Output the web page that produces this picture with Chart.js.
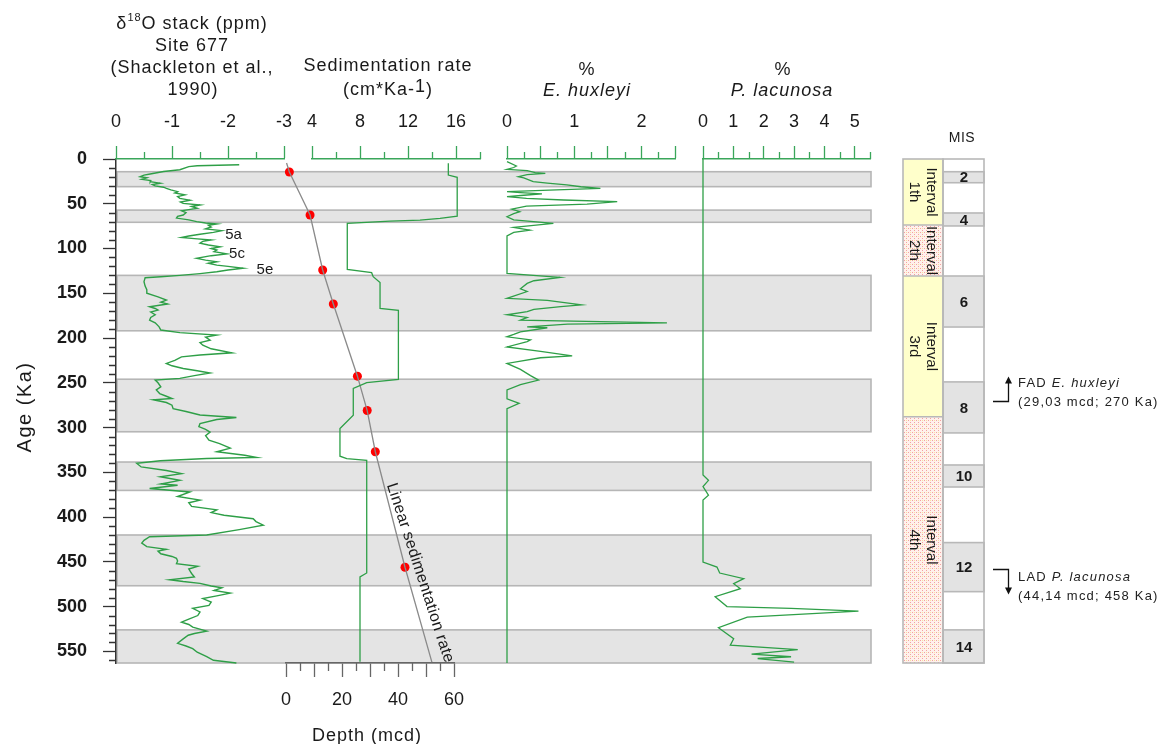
<!DOCTYPE html>
<html>
<head>
<meta charset="utf-8">
<script src="https://cdn.jsdelivr.net/npm/chart.js@4.4.1/dist/chart.umd.min.js"></script>
<style>
  html, body { margin: 0; padding: 0; background: #fff; }
  #wrap { position: relative; width: 1163px; height: 744px; }
  canvas { display: block; }
</style>
</head>
<body>
<div id="wrap"><canvas id="c" width="1163" height="744"></canvas></div>
<script>
// ---------------- data ----------------
// delta-18O stack, Site 677: [age Ka, value]
const d18oRecord = [
  [6.5,-2.2],[7.5,-1.45],[8.5,-1.3],[12,-1.14],[14,-0.85],[16.8,-0.61],[18,-0.5],[19.8,-0.43],[21,-0.55],
  [22.7,-0.46],[24,-0.62],[25.3,-0.61],[27,-0.79],[28.5,-0.65],[30,-0.7],[31.5,-0.85],[32.8,-0.9],[34.5,-0.98],
  [36.5,-1.1],[38,-1.05],[40,-1.23],[42,-1.1],[44,-1.14],[46,-1.32],[48,-1.15],[49.6,-1.2],[51.4,-1.5],[53,-1.35],
  [55,-1.45],[56.5,-1.3],[57.8,-1.17],[60,-1.25],[62.6,-1.2],[64,-1.1],[66,-1.08],[68,-1.3],[70,-1.44],[71.5,-1.6],
  [72.6,-1.8],[74,-1.65],[76,-1.7],[78,-1.6],[80,-1.89],[82,-1.74],[84,-1.5],[86,-1.3],[87.6,-1.17],[89,-1.4],
  [90.5,-1.7],[92,-1.55],[94,-1.5],[96,-1.65],[98,-1.86],[100,-1.7],[101.7,-1.8],[103.5,-1.75],[106,-1.98],
  [108,-1.7],[111,-1.44],[113,-1.6],[114.8,-1.8],[116.5,-1.65],[118.5,-1.8],[120,-2.0],[122,-2.27],[124,-2.0],
  [126,-1.8],[128,-1.5],[130,-1.14],[131.5,-0.8],[132.6,-0.52],[137,-0.5],[142,-0.52],[146,-0.55],[150,-0.55],
  [154,-0.75],[157.6,-0.9],[160,-0.8],[162,-0.92],[165,-0.6],[167,-0.7],[168.8,-0.75],[171,-0.62],[174,-0.7],
  [177,-0.62],[180,-0.6],[183,-0.7],[187.5,-0.77],[191,-0.8],[194,-1.14],[196.8,-1.8],[199,-1.6],[202.4,-1.68],
  [205,-1.5],[208,-1.55],[212,-1.7],[216.5,-2.07],[219,-1.5],[221,-1.17],[225,-1.05],[228.4,-0.9],[231,-1.0],
  [234,-1.2],[236.5,-1.45],[239,-1.68],[242,-1.4],[245,-1.14],[247,-0.7],[250,-0.75],[254.6,-0.8],[258,-0.72],
  [262,-0.78],[265,-0.9],[267.6,-1.0],[269,-0.67],[272,-0.9],[275,-1.0],[279,-1.02],[282,-1.25],[286,-1.5],
  [288.8,-2.15],[291,-1.8],[295.5,-1.5],[299,-1.48],[302,-1.6],[305,-1.68],[309,-1.6],[314,-1.66],[318,-1.85],
  [323,-2.04],[327,-1.8],[331,-2.3],[333.5,-2.51],[334.6,-1.62],[337,-0.79],[340,-0.37],[344,-0.45],[348,-0.9],
  [351.5,-1.17],[355,-0.79],[359,-1.14],[363,-0.8],[364.5,-1.1],[368,-0.6],[372,-1.32],[377,-1.1],[381,-1.5],
  [384,-1.3],[388,-1.35],[392,-1.8],[395,-1.7],[398,-1.93],[401.8,-2.45],[405,-2.5],[409,-2.63],[414,-2.2],
  [420,-1.62],[422,-0.6],[426,-0.5],[429,-0.46],[433,-0.55],[436,-0.9],[438,-0.75],[441,-0.8],[444,-1.0],
  [446,-1.08],[449,-1.1],[452,-1.08],[455,-1.46],[458,-1.3],[463,-1.35],[467,-1.4],[470,-0.96],[472,-1.2],
  [474,-1.5],[477,-1.7],[479,-1.89],[482,-1.75],[485,-2.04],[488,-1.8],[491,-1.55],[495,-1.7],[498.6,-1.66],
  [502,-1.37],[506,-1.5],[510,-1.46],[514,-1.3],[517.4,-1.17],[520,-1.3],[523,-1.37],[527.4,-1.62],[530,-1.4],
  [532,-1.29],[536,-1.2],[541,-1.1],[544,-1.25],[547,-1.37],[551,-1.45],[556,-1.62],[560,-1.74],[563,-2.15]
];

// sedimentation rate (cm/Ka): [age Ka, rate]
const sedRateRecord = [
  [4.8,15.36],[17.9,15.36],[20.5,16.1],[63.8,16.1],[66.3,14.67],[68.2,13],[69.3,10.5],[71.9,6.94],
  [123.3,6.94],[127,8.97],[131.5,9.1],[137.9,9.67],[167,9.67],[169,11.2],[246.2,11.2],[249.9,8.56],
  [256.3,7.44],[286.2,7.44],[301,6.33],[332,6.33],[334.6,6.9],[336.5,8.56],[462.4,8.56],[466.9,8.0],[561.6,8.0]
];

// E. huxleyi (%): [age Ka, value]
const ehuxRecord = [
  [3,0],[7.8,0.14],[9.5,0.1],[11.5,0],[13,0.3],[15.3,0.42],[16,0.57],[17.5,0.3],[19.8,0.17],[21,0.25],
  [25.3,0.39],[27,0.6],[29,0.89],[31,1.1],[32.8,1.39],[34.6,0.74],[36.5,0],[37.5,0.2],[39,0.52],[40.5,0.25],
  [42,0],[44,0.29],[45.8,0.84],[47.7,1.64],[50.3,1.19],[52.6,0.29],[56,0.07],[58.9,0.19],[61,0.1],[64.5,0],
  [68,0.1],[72,0.69],[76.4,0.1],[79.4,0.34],[82,0.1],[86,0],[127.8,0],[132.3,0.79],[136,0.4],[139,0.3],
  [145,0.2],[148,0.3],[155.7,0],[158,0.6],[163,1.11],[165,0.8],[168,0.4],[170.6,0.3],[174,0],[177,0.3],
  [180,0.2],[183,2.38],[184.5,0.9],[187.5,0.3],[188.5,0.6],[193,0.2],[196,0.1],[198.6,0],[202,0.35],[204,0.3],
  [210,0],[215,0.5],[220,0.97],[222,0.5],[228.4,0],[235,0.2],[242,0.35],[247,0.47],[252,0.2],[258,0],
  [268,0],[273,0.18],[279,0],[563,0]
];

// P. lacunosa (%): [age Ka, value]
const placRecord = [
  [0,0],[353,0],[359,0.18],[366,0],[375.6,0.18],[381,0],[450.2,0],[455.8,0.46],[462.5,0.55],[468.8,1.34],
  [474.4,1.01],[480,1.23],[489,0.4],[500,0.79],[502,2.9],[505,5.12],[511.7,1.46],[523.6,0.51],[535.9,1.01],
  [543,0.9],[548,3.12],[553,1.6],[556,2.9],[558,1.8],[562,3.0]
];

// age model: tie points [depth mcd, age Ka] and the linear sedimentation trend through them
const tiePoints = [[1.2,14.5],[8.6,62.6],[13.1,124],[16.9,162],[25.5,242.6],[29.0,281],[31.9,327],[42.5,456]];
const linearTrend = [[0.2,4.5],[1.2,14.5],[8.6,62.6],[13.1,124],[16.9,162],[25.5,242.6],[29.0,281],[31.9,327],[42.5,456],[52.1,562]];

// glacial stages shaded across the panels: [from Ka, to Ka]
const glacialBands = [[14.2,30.9],[57.1,70.7],[130,191.9],[246,304.7],[338.5,370.2],[420,476.7],[526,563]];
// MIS column cells: [label, from Ka, to Ka]
const misCells = [['2',14.2,26.5],['4',60.3,74.8],['6',130.7,187.7],['8',249,306],['10',341.8,366.4],['12',428.5,483.3],['14',526,563]];
// biostratigraphic intervals: names and boundaries (Ka)
const intervalNames = ['1th','2th','3rd','4th'];
const intervalBounds = [0,73.7,130.7,288,563];
// isotope substage labels: [label, age Ka, delta value]
const substages = [['5a',84.6,-2.1],['5c',106,-2.16],['5e',124,-2.66]];
// bioevents
const bioEvents = [
  {kind:'FAD', taxon:'E. huxleyi', depth:'29,03', age:270},
  {kind:'LAD', taxon:'P. lacunosa', depth:'44,14', age:458}
];

// ---------------- layout & style ----------------
const FONT = '"Liberation Sans", Arial, Helvetica, sans-serif';
const INK = '#1a1a1a';
const LINE_GREEN = '#2e9f47';
const AXIS_GREEN = '#3aa65a';
const AREA = { left: 116, top: 159, right: 871, bottom: 663 };
const SPANS = { d18o: [116, 284], sed: [312, 480], ehux: [507, 675], plac: [703, 870], depth: [286, 454] };
const MINOR = { age: 10, d18o: 0.5, sed: 2, ehux: 0.25, plac: 0.5, depth: 5 };
const f = (size, style) => (style ? style + ' ' : '') + size + 'px ' + FONT;

function topAxis(min, max, step, labelFn, reverse) {
  return {
    type: 'linear', position: 'top', min, max, reverse: !!reverse,
    ticks: { stepSize: step, autoSkip: false, maxRotation: 0, includeBounds: false, padding: 13,
             font: { family: FONT, size: 18 }, color: INK, callback: labelFn },
    grid: { drawOnChartArea: false, tickLength: 13, tickColor: AXIS_GREEN, tickWidth: 1.3, color: AXIS_GREEN },
    border: { color: AXIS_GREEN, width: 1.5 }
  };
}

// place each panel axis at its own horizontal span, all sharing the age axis
const panelLayout = {
  id: 'panelLayout',
  afterLayout(chart) {
    Object.assign(chart.chartArea, { left: AREA.left, right: AREA.right, top: AREA.top, bottom: AREA.bottom,
      width: AREA.right - AREA.left, height: AREA.bottom - AREA.top });
    for (const [id, span] of Object.entries(SPANS)) {
      const s = chart.scales[id];
      const h = s.height;
      s.left = span[0]; s.right = span[1]; s.width = span[1] - span[0];
      if (s.options.position === 'top') { s.bottom = AREA.top; s.top = AREA.top - h; }
      else { s.top = AREA.bottom; s.bottom = AREA.bottom + h; }
      s.configure();
    }
    const y = chart.scales.age;
    const w = y.width;
    y.top = AREA.top; y.bottom = AREA.bottom; y.height = AREA.bottom - AREA.top;
    y.right = AREA.left; y.left = AREA.left - w;
    y.configure();
  }
};

// shaded glacial stages behind every panel
const bandsPlugin = {
  id: 'bands',
  beforeDraw(chart) {
    const ctx = chart.ctx, y = chart.scales.age;
    ctx.save();
    for (const [a0, a1] of glacialBands) {
      const y0 = y.getPixelForValue(a0), y1 = y.getPixelForValue(a1);
      ctx.fillStyle = '#e4e4e4';
      ctx.fillRect(AREA.left + 1, y0, AREA.right - AREA.left - 1, y1 - y0);
      ctx.strokeStyle = '#b6b6b6';
      ctx.lineWidth = 1.6;
      ctx.strokeRect(AREA.left + 1, y0, AREA.right - AREA.left - 1, y1 - y0);
    }
    ctx.restore();
  }
};

const minorTicks = {
  id: 'minorTicks',
  afterDraw(chart) {
    const ctx = chart.ctx;
    ctx.save();
    ctx.lineWidth = 1.3;
    for (const [id, step] of Object.entries(MINOR)) {
      const s = chart.scales[id];
      const major = s.options.ticks.stepSize;
      ctx.strokeStyle = id === 'age' ? '#333' : id === 'depth' ? '#666' : AXIS_GREEN;
      ctx.beginPath();
      const n = Math.round((s.max - s.min) / step);
      for (let i = 0; i <= n; i++) {
        const v = s.min + i * step;
        const r = v / major;
        if (Math.abs(r - Math.round(r)) < 1e-6) continue;
        const p = Math.round(s.getPixelForValue(v)) + 0.5;
        if (id === 'age') { ctx.moveTo(AREA.left, p); ctx.lineTo(AREA.left - 7, p); }
        else if (id === 'depth') { ctx.moveTo(p, AREA.bottom); ctx.lineTo(p, AREA.bottom + 8); }
        else { ctx.moveTo(p, AREA.top); ctx.lineTo(p, AREA.top - 7); }
      }
      ctx.stroke();
    }
    ctx.restore();
  }
};

function drawParts(ctx, parts, x, y, align) {
  let total = 0;
  for (const p of parts) { ctx.font = p.font; p.w = ctx.measureText(p.text).width; total += p.w; }
  let cx = align === 'left' ? x : x - total / 2;
  ctx.textAlign = 'left';
  ctx.textBaseline = 'middle';
  for (const p of parts) { ctx.font = p.font; ctx.fillText(p.text, cx, y + (p.dy || 0)); cx += p.w; }
}

let dotPattern = null;
function pinkDots(ctx) {
  if (dotPattern) return dotPattern;
  const c = document.createElement('canvas'); c.width = 4; c.height = 4;
  const g = c.getContext('2d');
  g.fillStyle = '#fff1ec'; g.fillRect(0, 0, 4, 4);
  g.fillStyle = '#f2a2a2'; g.fillRect(0, 0, 1, 1); g.fillRect(2, 2, 1, 1);
  g.fillStyle = '#f7e3a0'; g.fillRect(2, 0, 1, 1);
  dotPattern = ctx.createPattern(c, 'repeat');
  return dotPattern;
}

const annotations = {
  id: 'annotations',
  afterDraw(chart) {
    const ctx = chart.ctx, y = chart.scales.age;
    const xd = chart.scales.d18o, xdep = chart.scales.depth;
    ctx.save();
    ctx.fillStyle = INK;
    ctx.letterSpacing = '1px';

    // panel headers
    drawParts(ctx, [{text:'δ', font:f(18)}, {text:'18', font:f(11), dy:-6}, {text:'O stack (ppm)', font:f(18)}], 192, 24);
    drawParts(ctx, [{text:'Site 677', font:f(18)}], 192, 46);
    drawParts(ctx, [{text:'(Shackleton et al.,', font:f(18)}], 192, 68);
    drawParts(ctx, [{text:'1990)', font:f(18)}], 193, 90);
    drawParts(ctx, [{text:'Sedimentation rate', font:f(18)}], 388, 66);
    drawParts(ctx, [{text:'(cm*Ka-', font:f(18)}, {text:'1', font:f(18), dy:-3}, {text:')', font:f(18)}], 388, 90);
    drawParts(ctx, [{text:'%', font:f(18)}], 587, 70);
    drawParts(ctx, [{text:'E. huxleyi', font:f(18,'italic')}], 587, 91);
    drawParts(ctx, [{text:'%', font:f(18)}], 783, 70);
    drawParts(ctx, [{text:'P. lacunosa', font:f(18,'italic')}], 782, 91);

    // axis titles
    ctx.save();
    ctx.translate(25, 407);
    ctx.rotate(-Math.PI / 2);
    ctx.letterSpacing = '1.5px';
    drawParts(ctx, [{text:'Age (Ka)', font:f(20)}], 0, 0);
    ctx.restore();
    drawParts(ctx, [{text:'Depth (mcd)', font:f(18)}], 367, 736);

    // isotope substages
    ctx.letterSpacing = '0px';
    for (const [lab, age, val] of substages) {
      drawParts(ctx, [{text: lab, font: f(15)}], xd.getPixelForValue(val), y.getPixelForValue(age));
    }

    // label along the linear sedimentation trend
    {
      const cx = xdep.getPixelForValue(47.9), cy = y.getPixelForValue(462.5);
      ctx.save();
      ctx.translate(cx, cy);
      ctx.rotate(72 * Math.PI / 180);
      ctx.letterSpacing = '0.3px';
      drawParts(ctx, [{text:'Linear sedimentation rate', font:f(16)}], 0, 0);
      ctx.restore();
    }

    // interval and MIS columns
    const iL = 903, iM = 943, iR = 984;
    for (let i = 0; i < intervalNames.length; i++) {
      const y0 = y.getPixelForValue(intervalBounds[i]), y1 = y.getPixelForValue(intervalBounds[i + 1]);
      ctx.fillStyle = i % 2 === 0 ? '#ffffcb' : pinkDots(ctx);
      ctx.fillRect(iL, y0, iM - iL, y1 - y0);
    }
    ctx.fillStyle = '#fff';
    ctx.fillRect(iM, AREA.top, iR - iM, AREA.bottom - AREA.top);
    ctx.strokeStyle = '#b8b8b8';
    ctx.lineWidth = 1.6;
    for (const [lab, a0, a1] of misCells) {
      const y0 = y.getPixelForValue(a0), y1 = y.getPixelForValue(a1);
      ctx.fillStyle = '#e3e3e3';
      ctx.fillRect(iM, y0, iR - iM, y1 - y0);
      ctx.strokeRect(iM, y0, iR - iM, y1 - y0);
      ctx.fillStyle = INK;
      drawParts(ctx, [{text: lab, font: f(15, 'bold')}], (iM + iR) / 2 + 0.5, (y0 + y1) / 2 + 1);
    }
    for (let i = 1; i < intervalBounds.length - 1; i++) {
      const yy = y.getPixelForValue(intervalBounds[i]);
      ctx.beginPath(); ctx.moveTo(iL, yy); ctx.lineTo(iM, yy); ctx.stroke();
    }
    ctx.strokeRect(iL, AREA.top, iM - iL, AREA.bottom - AREA.top);
    ctx.strokeRect(iM, AREA.top, iR - iM, AREA.bottom - AREA.top);

    ctx.fillStyle = INK;
    ctx.letterSpacing = '0px';
    for (let i = 0; i < intervalNames.length; i++) {
      const mid = (y.getPixelForValue(intervalBounds[i]) + y.getPixelForValue(intervalBounds[i + 1])) / 2;
      ctx.save();
      ctx.translate(iL + 20, mid);
      ctx.rotate(Math.PI / 2);
      drawParts(ctx, [{text:'Interval', font:f(15)}], 0, -8);
      drawParts(ctx, [{text:intervalNames[i], font:f(15)}], 0, 9);
      ctx.restore();
    }
    ctx.letterSpacing = '0.5px';
    drawParts(ctx, [{text:'MIS', font:f(14)}], 962, 138);

    // bioevent markers
    ctx.strokeStyle = '#111';
    ctx.fillStyle = '#111';
    ctx.lineWidth = 1.3;
    for (const ev of bioEvents) {
      const yy = Math.round(y.getPixelForValue(ev.age)) + 0.5;
      const up = ev.kind === 'FAD';
      const tip = up ? yy - 25 : yy + 25;
      ctx.beginPath();
      ctx.moveTo(993, yy); ctx.lineTo(1008.5, yy); ctx.lineTo(1008.5, up ? tip + 5 : tip - 5);
      ctx.stroke();
      ctx.beginPath();
      ctx.moveTo(1008.5, tip);
      ctx.lineTo(1005, up ? tip + 7 : tip - 7);
      ctx.lineTo(1012, up ? tip + 7 : tip - 7);
      ctx.closePath();
      ctx.fill();
      ctx.fillStyle = '#222';
      ctx.letterSpacing = '1.2px';
      const l1 = up ? yy - 18 : yy + 8;
      const l2 = up ? yy + 1 : yy + 27;
      drawParts(ctx, [{text: ev.kind + ' ', font: f(13)}, {text: ev.taxon, font: f(13, 'italic')}], 1018, l1, 'left');
      drawParts(ctx, [{text: '(' + ev.depth + ' mcd; ' + ev.age + ' Ka)', font: f(13)}], 1018, l2, 'left');
      ctx.fillStyle = '#111';
    }
    ctx.restore();
  }
};

const toXY = (rec) => rec.map(([age, v]) => ({ x: v, y: age }));
const lineSet = (label, rec, axis, color, width) => ({
  label, data: toXY(rec), xAxisID: axis, yAxisID: 'age', showLine: true,
  borderColor: color, borderWidth: width, pointRadius: 0, fill: false, tension: 0, clip: false
});

new Chart(document.getElementById('c'), {
  type: 'scatter',
  data: {
    datasets: [
      lineSet('δ18O', d18oRecord, 'd18o', LINE_GREEN, 1.4),
      lineSet('Sedimentation rate', sedRateRecord, 'sed', LINE_GREEN, 1.3),
      lineSet('E. huxleyi', ehuxRecord, 'ehux', LINE_GREEN, 1.3),
      lineSet('P. lacunosa', placRecord, 'plac', LINE_GREEN, 1.3),
      {
        label: 'Linear sedimentation rate', data: linearTrend.map(([d, a]) => ({ x: d, y: a })),
        xAxisID: 'depth', yAxisID: 'age', showLine: true, borderColor: '#8a8a8a', borderWidth: 1.3,
        pointRadius: 0, tension: 0, clip: false
      },
      {
        label: 'Tie points', data: tiePoints.map(([d, a]) => ({ x: d, y: a })),
        xAxisID: 'depth', yAxisID: 'age', showLine: false, pointRadius: 4.5, pointStyle: 'circle',
        backgroundColor: '#ff0000', borderColor: '#ff0000', borderWidth: 0, clip: false
      }
    ]
  },
  options: {
    responsive: false,
    animation: false,
    devicePixelRatio: 1,
    events: [],
    layout: { padding: { top: 10, left: 10, right: 280, bottom: 10 } },
    plugins: { legend: { display: false }, tooltip: { enabled: false } },
    scales: {
      age: {
        type: 'linear', position: 'left', min: 0, max: 563, reverse: true,
        ticks: { stepSize: 50, autoSkip: false, includeBounds: false, padding: 16,
                 font: { family: FONT, size: 18, weight: 'bold' }, color: INK },
        grid: { drawOnChartArea: false, tickLength: 13, tickColor: '#333', tickWidth: 1.3 },
        border: { color: '#333', width: 1.5 }
      },
      d18o: topAxis(-3, 0, 1, (v) => String(v), true),
      sed: topAxis(4, 18, 4, (v) => String(v)),
      ehux: topAxis(0, 2.5, 0.5, (v) => Number.isInteger(v) ? String(v) : ''),
      plac: topAxis(0, 5.5, 1, (v) => String(v)),
      depth: {
        type: 'linear', position: 'bottom', min: 0, max: 60,
        ticks: { stepSize: 10, autoSkip: false, maxRotation: 0, includeBounds: false, padding: 12,
                 font: { family: FONT, size: 18 }, color: INK, callback: (v) => (v % 20 === 0 ? String(v) : '') },
        grid: { drawOnChartArea: false, tickLength: 14, tickColor: '#666', tickWidth: 1.3 },
        border: { color: '#666', width: 1.5 }
      }
    }
  },
  plugins: [panelLayout, bandsPlugin, minorTicks, annotations]
});
</script>
</body>
</html>
